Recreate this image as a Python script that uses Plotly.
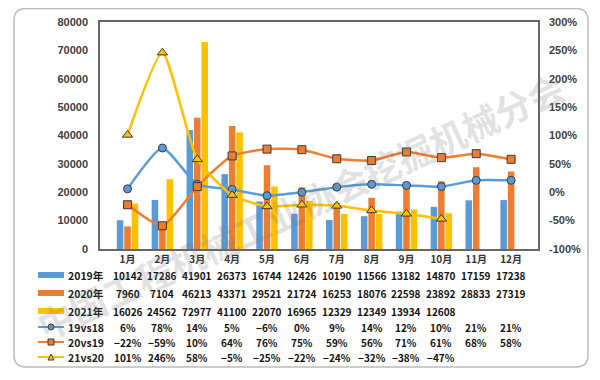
import plotly.graph_objects as go

months = ['1月', '2月', '3月', '4月', '5月', '6月', '7月', '8月', '9月', '10月', '11月', '12月']
sales_2019 = [10142, 17286, 41901, 26373, 16744, 12426, 10190, 11566, 13182, 14870, 17159, 17238]
sales_2020 = [7960, 7104, 46213, 43371, 29521, 21724, 16253, 18076, 22598, 23892, 28833, 27319]
sales_2021 = [16026, 24562, 72977, 41100, 22070, 16965, 12329, 12349, 13934, 12608]
g19vs18 = [6, 78, 14, 5, -6, 0, 9, 14, 12, 10, 21, 21]
g20vs19 = [-22, -59, 10, 64, 76, 75, 59, 56, 71, 61, 68, 58]
g21vs20 = [101, 246, 58, -5, -25, -22, -24, -32, -38, -47]
left_ticks = [0, 10000, 20000, 30000, 40000, 50000, 60000, 70000, 80000]
left_tick_text = ['0', '10000', '20000', '30000', '40000', '50000', '60000', '70000', '80000']
right_ticks = [-100, -50, 0, 50, 100, 150, 200, 250, 300]
right_tick_text = ['-100%', '-50%', '0%', '50%', '100%', '150%', '200%', '250%', '300%']

BLUE = '#5B9BD5'
ORANGE = '#ED7D31'
YELLOW = '#FFC000'
EDGE = '#3a3a3a'

# the page body has an 8px margin, so the figure is drawn from (8, 8)
OFF = 8
W, H = 600 - 2 * OFF, 380 - 2 * OFF
PL, PR, PT, PB = 100, 538, 22, 249


def px(x):
    return (x - OFF) / W


def py(y):
    return 1 - (y - OFF) / H


fig = go.Figure()
for name, vals, col in [('2019年', sales_2019, BLUE), ('2020年', sales_2020, ORANGE), ('2021年', sales_2021, YELLOW)]:
    fig.add_trace(go.Bar(x=months[:len(vals)], y=vals, name=name, marker=dict(color=col, line=dict(width=0))))

for name, vals, col, sym in [('19vs18', g19vs18, BLUE, 'circle'), ('20vs19', g20vs19, ORANGE, 'square'),
                             ('21vs20', g21vs20, YELLOW, 'triangle-up')]:
    fig.add_trace(go.Scatter(x=months[:len(vals)], y=vals, name=name, yaxis='y2', mode='lines+markers',
                             line=dict(color=col, width=2.5, shape='spline', smoothing=0.55),
                             marker=dict(symbol=sym, size=8 if sym != 'triangle-up' else 9, color=col,
                                         line=dict(color=EDGE, width=1))))

tickfont = dict(family='Liberation Sans', size=11, color='#404040', weight='bold')
fig.update_layout(
    width=W, height=H, margin=dict(l=0, r=0, t=0, b=0, autoexpand=False),
    paper_bgcolor='white', plot_bgcolor='white', showlegend=False,
    barmode='group', bargap=0.36, bargroupgap=0.12,
    xaxis=dict(domain=[px(PL), px(PR)], type='category', categoryorder='array', categoryarray=months,
               showline=True, mirror=True, linecolor='#666666', linewidth=1.5, ticks='', automargin=False,
               tickfont=dict(family='Noto Sans CJK SC', size=10, color='#333333', weight='bold'),
               showgrid=False),
    yaxis=dict(domain=[py(PB), py(PT)], range=[0, 80000], tickvals=left_ticks, ticktext=left_tick_text,
               showgrid=False, automargin=False,
               showline=True, mirror=True, linecolor='#666666', linewidth=1.5, ticks='',
               tickfont=tickfont, ticklabelstandoff=8, zeroline=False),
    yaxis2=dict(overlaying='y', side='right', range=[-100, 300], tickvals=right_ticks, ticktext=right_tick_text,
                showgrid=False, zeroline=False, showline=False, ticks='', tickfont=tickfont, automargin=False,
                ticklabelstandoff=10),
)

# outer rounded frame
x0, y0, x1, y1, r = 14, 8.5, 588, 367, 12
path = (f"M {px(x0+r)},{py(y0)} L {px(x1-r)},{py(y0)} Q {px(x1)},{py(y0)} {px(x1)},{py(y0+r)} "
        f"L {px(x1)},{py(y1-r)} Q {px(x1)},{py(y1)} {px(x1-r)},{py(y1)} "
        f"L {px(x0+r)},{py(y1)} Q {px(x0)},{py(y1)} {px(x0)},{py(y1-r)} "
        f"L {px(x0)},{py(y0+r)} Q {px(x0)},{py(y0)} {px(x0+r)},{py(y0)} Z")
fig.add_shape(type='path', path=path, xref='paper', yref='paper', line=dict(color='#BBBBBB', width=1.5),
              layer='below')

# data table
row_y = [275, 293, 311, 327, 342, 357]
rows = [('2019年', sales_2019, BLUE, 'bar'), ('2020年', sales_2020, ORANGE, 'bar'), ('2021年', sales_2021, YELLOW, 'bar'),
        ('19vs18', g19vs18, BLUE, 'circle'), ('20vs19', g20vs19, ORANGE, 'square'), ('21vs20', g21vs20, YELLOW, 'tri')]
tfont = dict(family='Noto Sans CJK SC', size=10, color='#111111', weight='bold')
for (label, vals, col, kind), yy in zip(rows, row_y):
    if kind == 'bar':
        fig.add_shape(type='rect', xref='paper', yref='paper', x0=px(38), x1=px(64), y0=py(yy + 3), y1=py(yy - 3),
                      fillcolor=col, line=dict(width=0))
    else:
        fig.add_shape(type='line', xref='paper', yref='paper', x0=px(38), x1=px(64), y0=py(yy), y1=py(yy),
                      line=dict(color=col, width=2))
        if kind == 'circle':
            fig.add_shape(type='circle', xref='paper', yref='paper', x0=px(48), x1=px(54), y0=py(yy + 3),
                          y1=py(yy - 3), fillcolor=col, line=dict(color=EDGE, width=1))
        elif kind == 'square':
            fig.add_shape(type='rect', xref='paper', yref='paper', x0=px(48), x1=px(54), y0=py(yy + 3),
                          y1=py(yy - 3), fillcolor=col, line=dict(color=EDGE, width=1))
        else:
            fig.add_shape(type='path', xref='paper', yref='paper',
                          path=f"M {px(48)},{py(yy+3)} L {px(54)},{py(yy+3)} L {px(51)},{py(yy-3)} Z",
                          fillcolor=col, line=dict(color=EDGE, width=1))
    fig.add_annotation(x=px(66), y=py(yy), xref='paper', yref='paper', text=label, showarrow=False,
                       xanchor='left', yanchor='middle', font=dict(family='Noto Sans CJK SC', size=10.5,
                                                                   color='#1a1a1a', weight='bold'))
    for m, v in zip(months, vals):
        txt = f"{v}" if kind == 'bar' else (f"−{abs(v)}%" if v < 0 else f"{v}%")
        fig.add_annotation(x=m, y=py(yy), xref='x', yref='paper', text=txt, showarrow=False,
                           xanchor='center', yanchor='middle', font=tfont)

# watermark
fig.add_annotation(x=px(300), y=py(205), xref='paper', yref='paper', text='中国工程机械工业协会挖掘机械分会',
                   showarrow=False, textangle=-25,
                   font=dict(family='Noto Sans CJK SC', size=36, color='rgba(120,120,120,0.22)', weight='bold'))

fig.write_html('out.html')
